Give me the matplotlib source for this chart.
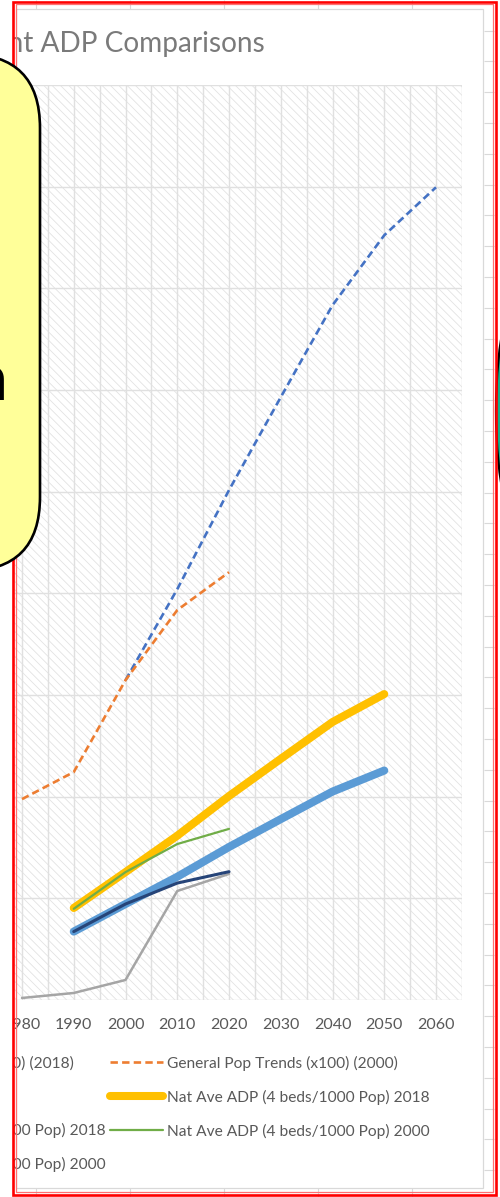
import matplotlib
matplotlib.use("Agg")
import matplotlib.pyplot as plt
from matplotlib.patches import Rectangle, FancyBboxPatch, Ellipse
from matplotlib.ticker import MultipleLocator
import numpy as np

plt.rcParams['font.family'] = ['Lato', 'DejaVu Sans']
plt.rcParams['hatch.linewidth'] = 0.6

# ---- data -------------------------------------------------------------
pop_2018_years = [2000, 2010, 2020, 2030, 2040, 2050, 2060]
pop_2018 = [3146, 4041, 5015, 5929, 6834, 7522, 7994]

pop_2000_years = [1980, 1990, 2000, 2010, 2020]
pop_2000 = [1976, 2242, 3146, 3835, 4208]

actual_years = [1980, 1990, 2000, 2010, 2020]
actual_adp = [20, 69, 197, 1072, 1240]

nat_2018_years = [1990, 2000, 2010, 2020, 2030, 2040, 2050]
nat4_2018 = [905, 1258, 1616, 2006, 2372, 2734, 3009]
nat3_2018 = [673, 944, 1212, 1505, 1779, 2050, 2257]

nat_2000_years = [1990, 2000, 2010, 2020]
nat4_2000 = [897, 1258, 1534, 1683]
nat3_2000 = [673, 944, 1150, 1262]

labels = [
    "General Pop Trends (x100) (2018)",
    "General Pop Trends (x100) (2000)",
    "Actual ADP",
    "Nat Ave ADP (4 beds/1000 Pop) 2018",
    "Nat Ave ADP (3 beds/1000 Pop) 2018",
    "Nat Ave ADP (4 beds/1000 Pop) 2000",
    "Nat Ave ADP (3 beds/1000 Pop) 2000",
]
decade_ticks = [1980, 1990, 2000, 2010, 2020, 2030, 2040, 2050, 2060]
title_text = "Current ADP Comparisons"

# ---- figure -----------------------------------------------------------
W, H = 500, 1197
fig = plt.figure(figsize=(W / 100, H / 100), dpi=100)
fig.patch.set_facecolor('white')


def pixel_axes(z):
    a = fig.add_axes([0, 0, 1, 1], zorder=z)
    a.set_xlim(0, W)
    a.set_ylim(H, 0)
    a.axis('off')
    a.patch.set_alpha(0)
    return a


# background: spreadsheet cells and chart area
bg = pixel_axes(0)
grid_col = '#e0e0e0'
bg.hlines(np.arange(30.6, 1190, 30.8), 484, 494, color='#d9d9d9', lw=0.8)
bg.vlines([36, 130, 224, 318, 412], 0, 9, color='#d9d9d9', lw=0.8)
bg.vlines([36, 130, 224, 318, 412], 1188, H, color='#d9d9d9', lw=0.8)
bg.add_patch(Rectangle((16, 9), 467, 1179, facecolor='white',
                       edgecolor='#d9d9d9', lw=0.9))
bg.text(265, 52, title_text, ha='right', va='baseline', fontsize=20.2,
        color='#7a7a7a')

# plot area
px_per_year = (436 - 22) / 80.0
ax = fig.add_axes([14 / W, (H - 1000) / H, (462 - 14) / W, 915 / H], zorder=2)
ax.set_xlim(1980 - 8 / px_per_year, 1980 + 440 / px_per_year)
ax.set_ylim(0, 9000)
ax.patch.set_facecolor('white')
ax.add_patch(Rectangle((0, 0), 1, 1, transform=ax.transAxes, facecolor='none',
                       edgecolor='#e3e3e3', hatch='\\\\\\\\', lw=0, zorder=0))
ax.set_axisbelow(True)
ax.set_xticks(decade_ticks)
ax.xaxis.set_minor_locator(MultipleLocator(5))
ax.yaxis.set_major_locator(MultipleLocator(1000))
ax.grid(True, which='both', color=grid_col, lw=1.0)
ax.tick_params(which='both', length=0)
ax.tick_params(axis='x', labelsize=11.5, labelcolor='#595959', pad=13)
ax.set_yticklabels([])
for s in ax.spines.values():
    s.set_visible(False)

l1, = ax.plot(pop_2018_years, pop_2018, color='#4472c4', lw=1.9,
              dashes=(2.8, 1.6), label=labels[0])
l2, = ax.plot(pop_2000_years, pop_2000, color='#ed7d31', lw=1.9,
              dashes=(2.8, 1.6), label=labels[1])
l3, = ax.plot(actual_years, actual_adp, color='#a5a5a5', lw=1.8,
              solid_capstyle='round', label=labels[2])
l4, = ax.plot(nat_2018_years, nat4_2018, color='#ffc000', lw=5.8,
              solid_capstyle='round', label=labels[3])
l5, = ax.plot(nat_2018_years, nat3_2018, color='#5b9bd5', lw=5.8,
              solid_capstyle='round', label=labels[4])
l6, = ax.plot(nat_2000_years, nat4_2000, color='#70ad47', lw=1.6,
              solid_capstyle='round', label=labels[5])
l7, = ax.plot(nat_2000_years, nat3_2000, color='#264478', lw=2.2,
              solid_capstyle='round', label=labels[6])

# legend filled row by row, two columns
order = [l1, l3, l5, l7, l2, l4, l6]
leg_fs = 11.2
fs_px = leg_fs * 100 / 72
leg = ax.legend(order, [h.get_label() for h in order], ncol=2,
                loc='upper left', bbox_to_anchor=(0, 0),
                bbox_transform=fig.transFigure, frameon=False,
                fontsize=leg_fs, labelcolor='#595959',
                handlelength=53 / fs_px, handletextpad=4 / fs_px,
                columnspacing=4 / fs_px, labelspacing=1.22,
                borderpad=0, borderaxespad=0)
fig.canvas.draw()
r = fig.canvas.get_renderer()
tb = leg.get_texts()[4].get_window_extent(r)
lb = leg.get_window_extent(r)
dx = 167 - tb.x0
dy = (H - 1063) - (tb.y0 + tb.y1) / 2
leg.set_bbox_to_anchor(((lb.x0 + dx) / W, (lb.y1 + dy) / H),
                       transform=fig.transFigure)

# foreground: selection frame, callout and shapes
fg = pixel_axes(5)
fg.add_patch(Rectangle((0, 0), 12.5, H, facecolor='white', lw=0))
fg.add_patch(Rectangle((497, 0), 3, H, facecolor='white', lw=0))
fg.add_patch(Ellipse((526, 411), 60, 260, facecolor='#13b38f',
                     edgecolor='black', lw=1.6))
fg.add_patch(Rectangle((13.2, 1.5), 482.5, 1193, facecolor='none',
                       edgecolor='#ff0000', lw=1.9))
fg.add_patch(Rectangle((15.8, 4.2), 477.3, 1187.6, facecolor='none',
                       edgecolor='#ff7070', lw=0.9))
fg.add_patch(FancyBboxPatch((-300, 54), 340, 517,
                            boxstyle='round,pad=0,rounding_size=74',
                            facecolor='#ffff99', edgecolor='black', lw=1.9))
fg.text(8, 400, "Projection", ha='right', va='baseline', fontsize=47,
        fontweight='bold', color='black')

fig.savefig('out.png', dpi=100)
